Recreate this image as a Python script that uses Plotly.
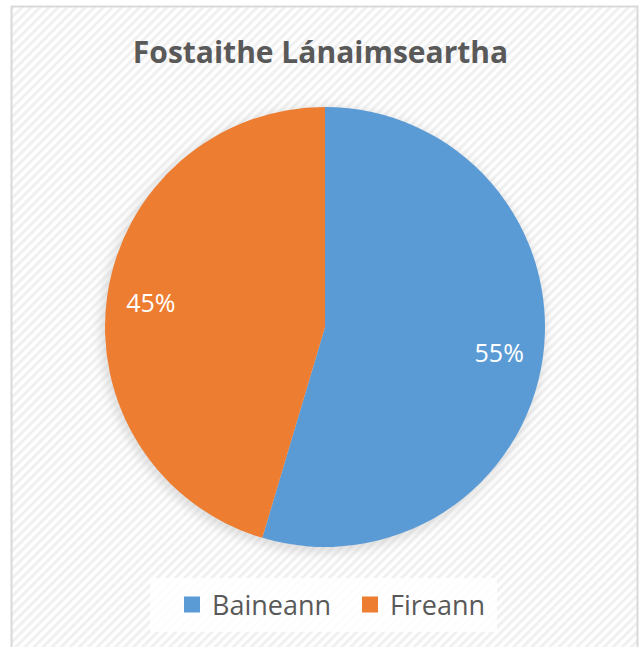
import base64
import plotly.graph_objects as go

# ---- data ----
categories = ["Baineann", "Fireann"]
values = [54.6, 45.4]
colors = ["#5B9BD5", "#ED7D31"]
title_text = "Fostaithe Lánaimseartha"

W, H = 641, 647

# background stripe pattern (decoration) as inline SVG
svg = f'''<svg xmlns="http://www.w3.org/2000/svg" width="{W}" height="{H}" viewBox="0 0 {W} {H}">
<defs>
<pattern id="p" patternUnits="userSpaceOnUse" width="6.4" height="6.4" patternTransform="rotate(45)">
<rect width="6.4" height="6.4" fill="#ffffff"/>
<rect width="3" height="6.4" fill="#f0f0f0"/>
</pattern>
<filter id="b" x="-20%" y="-20%" width="140%" height="140%"><feGaussianBlur stdDeviation="5"/></filter>
</defs>
<rect x="0" y="0" width="{W}" height="{H}" fill="#ffffff"/>
<rect x="12" y="7" width="625" height="650" fill="url(#p)"/>
<circle cx="323" cy="330" r="223" fill="#c4c4c4" opacity="0.5" filter="url(#b)"/>
<rect x="150" y="578" width="347" height="54" fill="#ffffff" opacity="0.85"/>
</svg>'''
src = "data:image/svg+xml;base64," + base64.b64encode(svg.encode()).decode()

dom = dict(x=[105 / W, 545 / W], y=[1 - 547 / H, 1 - 107 / H])

fig = go.Figure()
# main pie (slices)
fig.add_trace(go.Pie(
    labels=categories,
    values=values,
    marker=dict(colors=colors, line=dict(width=0)),
    sort=False,
    direction="clockwise",
    rotation=0,
    textinfo="none",
    domain=dom,
    showlegend=False,
    hoverinfo="label+percent",
))
# ring overlay that carries the percentage labels at ~0.8 R
fig.add_trace(go.Pie(
    labels=categories,
    values=values,
    hole=0.6,
    marker=dict(colors=["rgba(0,0,0,0)"] * len(categories), line=dict(width=0)),
    sort=False,
    direction="clockwise",
    rotation=0,
    texttemplate="%{percent:.0%}",
    textposition="inside",
    insidetextorientation="horizontal",
    textfont=dict(family="Open Sans", size=25, color="#ffffff"),
    domain=dom,
    showlegend=False,
    hoverinfo="skip",
))
# legend entries
for name, c in zip(categories, colors):
    fig.add_trace(go.Scatter(
        x=[None], y=[None], mode="markers", name=name,
        marker=dict(symbol="square", size=16, color=c),
        hoverinfo="skip",
    ))

fig.update_layout(
    width=W, height=H,
    margin=dict(l=0, r=0, t=0, b=0),
    paper_bgcolor="#ffffff",
    plot_bgcolor="rgba(0,0,0,0)",
    xaxis=dict(visible=False),
    yaxis=dict(visible=False),
    title=dict(
        text=f"<b>{title_text}</b>",
        font=dict(family="Open Sans", size=30, color="#595959"),
        x=0.5, xanchor="center",
        y=1 - 52 / H, yanchor="middle", yref="container",
    ),
    legend=dict(
        orientation="h",
        x=172 / W, xanchor="left",
        y=1 - 605 / H, yanchor="middle",
        bgcolor="rgba(0,0,0,0)",
        font=dict(family="Open Sans", size=27, color="#595959"),
        itemsizing="trace",
        entrywidth=133, entrywidthmode="pixels",
        itemclick=False, itemdoubleclick=False,
    ),
    images=[dict(
        source=src, xref="paper", yref="paper",
        x=0, y=1, sizex=1, sizey=1,
        xanchor="left", yanchor="top",
        sizing="stretch", layer="below",
    )],
    shapes=[dict(
        type="rect", xref="paper", yref="paper",
        x0=11.5 / W, x1=637.5 / W, y0=-0.02, y1=1 - 6.5 / H,
        line=dict(color="#d9d9d9", width=2), fillcolor="rgba(0,0,0,0)",
        layer="above",
    )],
)

fig.write_html(
    "out.html",
    config={"displayModeBar": False},
    post_script="document.body.style.margin='0';document.body.style.overflow='hidden';",
)
